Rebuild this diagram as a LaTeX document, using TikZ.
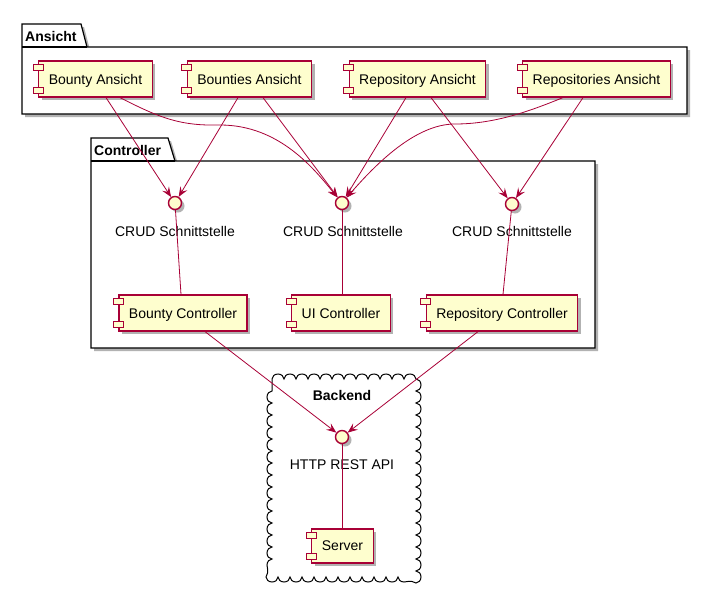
\documentclass[tikz,border=0pt]{standalone}
\usepackage{fontspec}
\setmainfont{Liberation Sans}
\usetikzlibrary{arrows.meta,shadows,decorations.pathmorphing}
\definecolor{pumred}{HTML}{A80036}
\definecolor{pumfill}{HTML}{FEFECE}
\newcommand{\compicons}[1]{%
  \draw[compicon] ([xshift=-5pt,yshift=-4pt]#1.north west) rectangle ++(10pt,-6pt);
  \draw[compicon] ([xshift=-5pt,yshift=4pt]#1.south west) rectangle ++(10pt,6pt);}
\begin{document}
\begin{tikzpicture}[x=1pt,y=-1pt,
  font=\fontsize{14pt}{16pt}\selectfont,
  shad/.style={drop shadow={shadow xshift=3pt,shadow yshift=-3pt,fill=black,opacity=0.3}},
  comp/.style={draw=pumred,fill=pumfill,line width=1.2pt,minimum height=36pt,inner xsep=10pt,inner ysep=0pt,text depth=0pt,shad},
  compicon/.style={draw=pumred,fill=pumfill,line width=1.2pt},
  iface/.style={circle,draw=pumred,fill=pumfill,line width=1.4pt,minimum size=13pt,inner sep=0pt,shad},
  conn/.style={draw=pumred,line width=0.8pt},
  arr/.style={conn,-{Stealth[length=10pt,width=8pt,inset=4pt]}},
  pkg/.style={draw=black,line width=1.2pt,fill=white,shad},
  pkgname/.style={font=\fontsize{14pt}{16pt}\selectfont\bfseries,anchor=west,inner sep=0pt},
  lbl/.style={inner sep=0pt},
]
\useasboundingbox (0,0) rectangle (708,597);

% packages
\draw[pkg] (22,24) -- (81,24) -- (87,47) -- (687,47) -- (687,114) -- (22,114) -- cycle;
\draw[line width=1.2pt] (22,47) -- (87,47);
\node[pkgname] (pAnsicht) at (25,36) {Ansicht};

\draw[pkg] (91,138) -- (168,138) -- (175,161) -- (595,161) -- (595,348) -- (91,348) -- cycle;
\draw[line width=1.2pt] (91,161) -- (175,161);
\node[pkgname] (pController) at (94,150) {Controller};

% cloud
\draw[line width=1pt,decorate,decoration={bumps,segment length=24pt,amplitude=5pt}]
  (272,379) -- (416,379) -- (416,577) -- (272,577) -- cycle;
\node[font=\fontsize{14pt}{16pt}\selectfont\bfseries,lbl] (pBackend) at (342,395) {Backend};

% components
\node[comp] (ba)  at (95.5,79)  {Bounty Ansicht};
\node[comp] (bsa) at (249.5,79) {Bounties Ansicht};
\node[comp] (ra)  at (417.5,79) {Repository Ansicht};
\node[comp] (rsa) at (596.5,79) {Repositories Ansicht};
\node[comp] (bc)  at (183,313)  {Bounty Controller};
\node[comp] (uc)  at (341,313)  {UI Controller};
\node[comp] (rc)  at (502,313)  {Repository Controller};
\node[comp,minimum height=34pt] (srv) at (342.5,546) {Server};
\foreach \n in {ba,bsa,ra,rsa,bc,uc,rc,srv}{\compicons{\n}}

% interfaces
\node[iface] (crud1) at (175,203) {};
\node[iface] (crud2) at (342,203) {};
\node[iface] (crud3) at (512,204) {};
\node[iface] (http)  at (342,437) {};
\node[lbl] (l1) at (175,231) {CRUD Schnittstelle};
\node[lbl] (l2) at (343,231) {CRUD Schnittstelle};
\node[lbl] (l3) at (512,231) {CRUD Schnittstelle};
\node[lbl] (lh) at (342,465) {HTTP REST API};

% interface links
\draw[conn] (crud1) -- ([xshift=-2pt]bc.north);
\draw[conn] (crud2) -- ([xshift=1pt]uc.north);
\draw[conn] (crud3) -- ([xshift=1pt]rc.north);
\draw[conn] (http) -- ([xshift=-0.5pt]srv.north);

% arrows
\draw[arr] ([xshift=10.5pt]ba.south) -- (crud1);
\draw[arr] ([xshift=24.5pt]ba.south) .. controls (160,118) and (180,126) .. (220,125)
  .. controls (280,125) and (315,170) .. (crud2);
\draw[arr] ([xshift=-11.5pt]bsa.south) -- (crud1);
\draw[arr] ([xshift=13.5pt]bsa.south) -- (crud2);
\draw[arr] ([xshift=-11.5pt]ra.south) -- (crud2);
\draw[arr] ([xshift=13.5pt]ra.south) -- (crud3);
\draw[arr] ([xshift=-33.5pt]rsa.south) .. controls (530,111) and (495,124) .. (455,124)
  .. controls (415,124) and (375,165) .. (crud2);
\draw[arr] ([xshift=-13.5pt]rsa.south) -- (crud3);
\draw[arr] ([xshift=22pt]bc.south) -- (http);
\draw[arr] ([xshift=-24pt]rc.south) -- (http);
\end{tikzpicture}
\end{document}
